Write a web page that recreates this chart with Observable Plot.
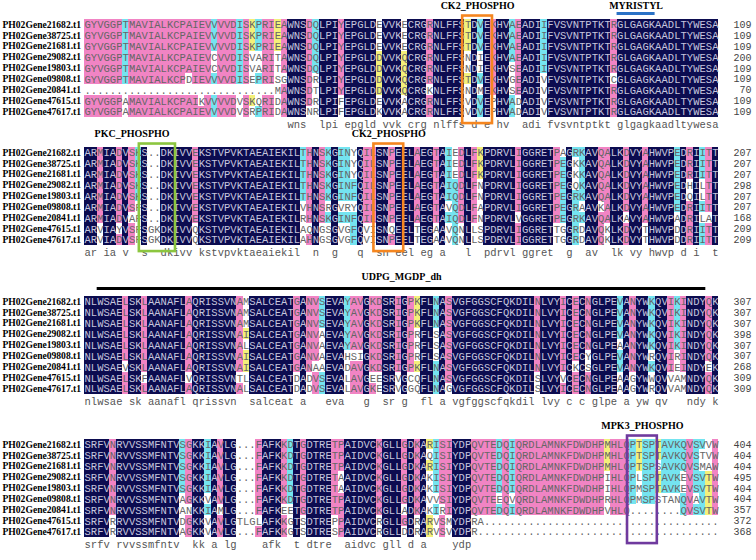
<!DOCTYPE html>
<html><head><meta charset="utf-8">
<script src="https://cdn.jsdelivr.net/npm/d3@7"></script>
<script src="https://cdn.jsdelivr.net/npm/@observablehq/plot@0.6"></script>
<style>body{margin:0;background:#fff}#chart svg{display:block}</style>
</head><body><div id="chart"></div>
<script>
// ---------- DATA ----------
const seqNames = ["PH02Gene21682.t1","PH02Gene38725.t1","PH02Gene21681.t1","PH02Gene29082.t1","PH02Gene19803.t1","PH02Gene09808.t1","PH02Gene20841.t1","PH02Gene47615.t1","PH02Gene47617.t1"];

const block1 = [
"GYVGGPTMAVIALKCPAIEVVVVDISKPRIEAWNSDQLPIYEPGLDEVVKECRGRNLFFSTDVEKHVAEADIIFVSVNTPTKTRGLGAGKAADLTYWESA",
"GYVGGPTMAVIALKCPAIEVVVVDISKPRIEAWNSDQLPIYEPGLDEVVKECRGRNLFFSTDVEKHVAEADIIFVSVNTPTKTRGLGAGKAADLTYWESA",
"GYVGGPTMAVIALKCPAIEVVVVDISKPRIEAWNSDQLPIYEPGLDEVVKECRGRNLFFSTDVEKHVAEADIIFVSVNTPTKTRGLGAGKAADLTYWESA",
"GYVGGPTMAVIALKCPAIEVCVVDISVARITAWNSDQLPIYEPGLDDVVKQCRGRNLFFSNDIEKHVAEADIIFVSVNTPTKTRGLGAGKAADLTYWESA",
"GYVGGPTMAVIALKCPAIEVCVVDISVARITAWNSDQLPIYEPGLDDVVKQCRGRNLFFSNDIEKHVSEADIIFVSVNTPTKTRGLGAGKAADLTYWESA",
"GYVGGPTMAVIALKCPDIEVVVVDISEPRISGWNSDRLPIYEPGLDDVVKQCRGRNLFFSTDVEKHVGEADIVFVSVNTPTKTCGLGAGKAADLTYWESA",
"..............................MAWNSDTLPIYEPGLDDVVKQCRGKNLFFSNDMEKHVSEADIVFVSVNTPTKTRGLGAGKAADLTYWESA",
"GYVGGPAMAVIALKCPAIKVVVVDVSKQRIDAWNSDRLPIFEPGLDEVVKACRGRNLFFSVDVEPHVADADIVFVSVNTPTKTRGLGAGKAADLTYWESA",
"GYVGGPAMAVIALKCPAIEVVVVDVSRPRIDAWNSNRLPIFEPGLDKVVKACRGRNLFFSVDVEPHVADADIVFVSVNTPTKTRGLGAGKAADLTYWESA"];
const block2 = [
"ARMIADVSKS..DKIVVEKSTVPVKTAEAIEKILTHNSKGINYQILSNPEELAEGTAIEDLFKPDRVLIGGRETPAGRKAVQALKDVYAHWVPEDRIITT",
"ARMIADVSKS..DKIVVEKSTVPVKTAEAIEKILTHNSKGINYQILSNPEELAEGTAIEDLFKPDRVLIGGRETPEGKKAVQALKDVYAHWVPEDRIITT",
"ARMIADVSKS..DKIVVEKSTVPVKTAEAIEKILTHNSKGINYQILSNPEELAEGTAIEDLFKPDRVLIGGRETPEGKKAVQALKDVYAHWVPEDRIITT",
"ARMIADVSKS..DKIVVEKSTVPVKTAEAIEKILTHNSKGINFQILSNPEELAEGTAIQDLFNPDRVLIGGRETPEGQKAVQALKDVYAHWVPEDHILTT",
"ARMIADVSKS..DKIVVEKSTVPVKTAEAIEKILTHNSKGINFQILSNPEELAEGTAIQDLFNPDRVLIGGRETPEGRKAVQALKDVYAHWVPEDQILTT",
"ARMIADVSFS..DKIVVEKSTVPVKTAEAIEKILVHNSRGVRYQILSNPEELAEGTAVQDLFAPDRVLIGGRETPEGRAAVKALKDVYAHWVPEDRIITT",
"ARMIADVAFS..DKIVVEKSTVPVKTAEAIEKILRHNSKGINFQILSNPEELAEGTAIQDLFNPDRVLVGGRETPEGRKAVQALKAVYAHWVPADRILAT",
"ARVIAYVSFSGKDKIVVQKSTVPVKTAEAIEKILAQNGSGVGFQVISNQEELTEGAAVQNLLSPDRVLIGGRETTGGRDAVQKLKDVYTHWVPDDRIITT",
"ARVIADVSFSGKDKIVVQKSTVPVKTAEAIEKILAHNGSGVGFQVISNPEELTEGAAVQNLLSPDRVLIGGRETTGGRDAVQKLKDVYTHWVPDDRIITT"];
const block3 = [
"NLWSAELSKLAANAFLAQRISSVNAMSALCEATGANVSEVAYAVGKDSRIGPKFLNASVGFGGSCFQKDILNLVYICECNGLPEVANYWKQVIKINDYQK",
"NLWSAELSKLAANAFLAQRISSVNAMSALCEATGANVSEVAYAVGKDSRIGPKFLNASVGFGGSCFQKDILNLVYICECNGLPEVANYWKQVIKINDYQK",
"NLWSAELSKLAANAFLAQRISSVNAMSALCEATGANVSEVAYAVGKDSRIGPKFLNASVGFGGSCFQKDILNLVYICECNGLPEVANYWKQVIKINDYQK",
"NLWSAELSKLAANAFLAQRISSVNAISALCEATGANVAEVAYAVGKDSRIGPRFLSASVGFGGSCFQKDILNLVYICECNGLPEVANYWKQVIKINDYQK",
"NLWSAELSKLAANAFLAQRISSVNALSALCEATGANVAEVAYAVGKDSRIGPRFLSASVGFGGSCFQKDILNLVYICECNGLPEAANYWKQVIKINDYQK",
"NLWSAELSKLAANAFLAQRISSVNAISALCEATGANVAEVAHSIGKDSRIGPRFLSASVGFGGSCFQKDILNLVYICECYGLPEVANYWRQVIRINDYQK",
"NLWSAEVSKLAANAFLAQRISSVNAISALCEATGANAAEVADAVGKDSRIGPKFLNASVGFGGSCFQKDILNLVYICKCSGLPEVANYWKQVIEINDYEK",
"NLWSAELSKFAANAFLVQRISSVNTLSALCEATDADVSEVALAVGEESRVGCQFLNASVGFGGSCFQKDILSLVYVCECNGLPEAAGYWWQVVAMNDYQK",
"NLWSAELSKLAANAFLAQRISSVNALSALCEATDADVSEVALAVGKESRVGGQFLNAGVGFGGSCFQKDILSLVYICECNGLPEAAGYWRQVVAMNDYQK"];
const block4 = [
"SRFVNRVVSSMFNTVSGKKIAVLG...FAFKKDTGDTRETPAIDVCKGLLGDKARISIYDPQVTEDQIQRDLAMNKFDWDHPMHLQPTSPTAVKQVSVVW",
"SRFVNRVVSSMFNTVSGKKIAVLG...FAFKKDTGDTRETPAIDVCKGLLGDKAQISIYDPQVTEDQIQRDLAMNKFDWDHPMHLQPTSPTAVKQVSTVW",
"SRFVNRVVSSMFNTVSGKKIAVLG...FAFKKDTGDTRETPAIDVCKGLLGDKARISIYDPQVTEDQIQRDLAMNKFDWDHPMHLQPTSPSAVKQVSMAW",
"SRFVNRVVSSMFNTVSGKKIAVLG...FAFKKDTGDTRETAAIDVCKGLLGDKAKISIYDPQVTEDQIQRDLAMNKFDWDHPIHLQPLSPTAVKEVSVTW",
"SRFVNRVVSSMFNTVSGKKIAVLG...FAFKKDTGDTRETAAIDVCKGLLGDKAKISIYDPQVTEDQIQRDLAMNKFDWDHPIHLQPMSPTAVKEVSVTW",
"SRFVNRVVSSMFNTVAGKKVAVLG...FAFKKDTGDTRETPAIDVCKGLLGDKAVVSIYDPQVTEEQVQRDLAMNKFDWDHPRHLQPMSPSTANQVAVTW",
"SRFVNRVVSSMFNTVANKKIAMLG...FAFKEETGDTRETPAIDVCKGLLADKAKIRIYDPQVTEDQIQRDLAMNKFDWDHPVHLQ........QVSVTW",
"SRFVRRVVSSMFNTVDGKKVAVLGTLGLAFKKGTSDTREPPAIDVCRGLLGDRARVSMYDPRA.....................................",
"SRFVRRVVSSMFNTVAGKKVAVLG...FAFKKGTSDTRESPAIDVCRGLLDDRARVSVYDPR......................................"];

const ends1 = [109,109,109,200,109,109,70,109,109];
const ends2 = [207,207,207,298,207,207,168,209,209];
const ends3 = [307,307,307,398,307,307,268,309,309];
const ends4 = [404,404,404,495,404,404,357,372,368];

// motif annotations: block number, label, first and last alignment column, kind
const motifBlock = [1,1,2,2,3,4];
const motifLabel = ["CK2_PHOSPHO","MYRISTYL","PKC_PHOSPHO","CK2_PHOSPHO","UDPG_MGDP_dh","MPK3_PHOSPHO"];
const motifFrom  = [61,85,10,47,3,87];
const motifTo    = [64,90,14,50,98,90];
const motifKind  = ["box","line","box","box","line","box"];

// ---------- LAYOUT / STYLE ----------
const W = 756, H = 560;
const NAVY = "#0c0c50", PINK = "#f184c4", CYAN = "#74e4f0", YELLOW = "#f3f07a";
const kindColor = {"CK2_PHOSPHO":"#f5861f","MYRISTYL":"#2a72c6","PKC_PHOSPHO":"#8cc63f","UDPG_MGDP_dh":"#000000","MPK3_PHOSPHO":"#6f3a9e"};
const colW = 6.34, x0 = 84, step = 10.95;
const row1Y = [24, 152, 301, 444];
const titleOff = [-19, -19, -25, -19];
const lineOff = [-11, -9, -13, -9];
const boxPadTop = [3, 3, 3, 3];
const labelShift = {"PKC_PHOSPHO": -4};
const px2col = px => 0.5 + (px - x0) / colW;
const consY = b => row1Y[b] + 9.15 * step;

const blocks = [block1, block2, block3, block4];
const ends = [ends1, ends2, ends3, ends4];

const cells = [], consensus = [], labels = [], numbers = [];
blocks.forEach((rows, b) => {
  const n = rows[0].length;
  for (let c = 0; c < n; c++) {
    const counts = new Map();
    rows.forEach(s => { const ch = s[c]; if (ch !== ".") counts.set(ch, (counts.get(ch) || 0) + 1); });
    let best = null, bc = 0;
    [...counts.keys()].sort().forEach(k => { if (counts.get(k) > bc) { bc = counts.get(k); best = k; } });
    let bg = null;
    if (bc === rows.length) bg = NAVY; else if (bc >= 7) bg = PINK; else if (bc >= 5) bg = CYAN; else if (bc >= 3) bg = YELLOW;
    rows.forEach((s, r) => {
      const ch = s[c];
      cells.push({b, r, col: c + 1, ch, y: row1Y[b] + r * step, bg: (ch === best ? bg : null)});
    });
    if (bc === rows.length) consensus.push({col: c + 1, ch: best.toLowerCase(), y: consY(b)});
  }
  seqNames.forEach((nm, r) => {
    labels.push({text: nm, y: row1Y[b] + r * step});
    numbers.push({text: String(ends[b][r]), y: row1Y[b] + r * step});
  });
});

const motifs = motifLabel.map((lab, i) => {
  const b = motifBlock[i] - 1;
  return {label: lab, b, from: motifFrom[i], to: motifTo[i], kind: motifKind[i],
    color: kindColor[lab],
    top: row1Y[b] - step / 2 - boxPadTop[b], bottom: row1Y[b] + 8.5 * step + 6,
    ly: row1Y[b] + lineOff[b], ty: row1Y[b] + titleOff[b],
    tx: (motifFrom[i] + motifTo[i]) / 2 + (labelShift[lab] || 0)};
});
const boxes = motifs.filter(m => m.kind === "box");
const lines = motifs.filter(m => m.kind === "line");

const plot = Plot.plot({
  width: W, height: H, margin: 0,
  x: {domain: [px2col(0), px2col(W)], range: [0, W], axis: null},
  y: {domain: [0, H], range: [0, H], axis: null},
  color: {type: "identity"},
  marks: [
    Plot.rect(cells.filter(d => d.bg), {x1: d => d.col - 0.5, x2: d => d.col + 0.5,
      y1: d => d.y - step / 2, y2: d => d.y + step / 2, fill: "bg", shapeRendering: "crispEdges"}),
    Plot.text(cells, {x: "col", y: "y", text: "ch", fill: d => d.bg === NAVY ? "#c6c6de" : "#666666",
      fontFamily: "Liberation Mono", fontSize: 10.5}),
    Plot.text(consensus, {x: "col", y: "y", text: "ch", fill: "#555555", fontFamily: "Liberation Mono", fontSize: 10.5}),
    Plot.text(labels, {x: px2col(2), y: "y", text: "text", textAnchor: "start", fill: "#000",
      fontFamily: "Liberation Serif", fontWeight: "bold", fontSize: 9.6}),
    Plot.text(numbers, {x: px2col(751), y: "y", text: "text", textAnchor: "end", fill: "#444",
      fontFamily: "Liberation Mono", fontSize: 10}),
    Plot.rect(boxes, {x1: d => d.from - 0.5 - 0.35, x2: d => d.to + 0.5 + 0.35, y1: "top", y2: "bottom",
      fill: "none", stroke: "color", strokeWidth: 2.6}),
    Plot.ruleY(lines, {y: "ly", x1: d => d.from - 0.5, x2: d => d.to + 0.5, stroke: "color", strokeWidth: 3}),
    Plot.text(motifs, {x: "tx", y: "ty", text: "label", fill: "#000", fontFamily: "Liberation Serif",
      fontWeight: "bold", fontSize: 10})
  ]
});
document.getElementById("chart").append(plot);
</script>
</body></html>
